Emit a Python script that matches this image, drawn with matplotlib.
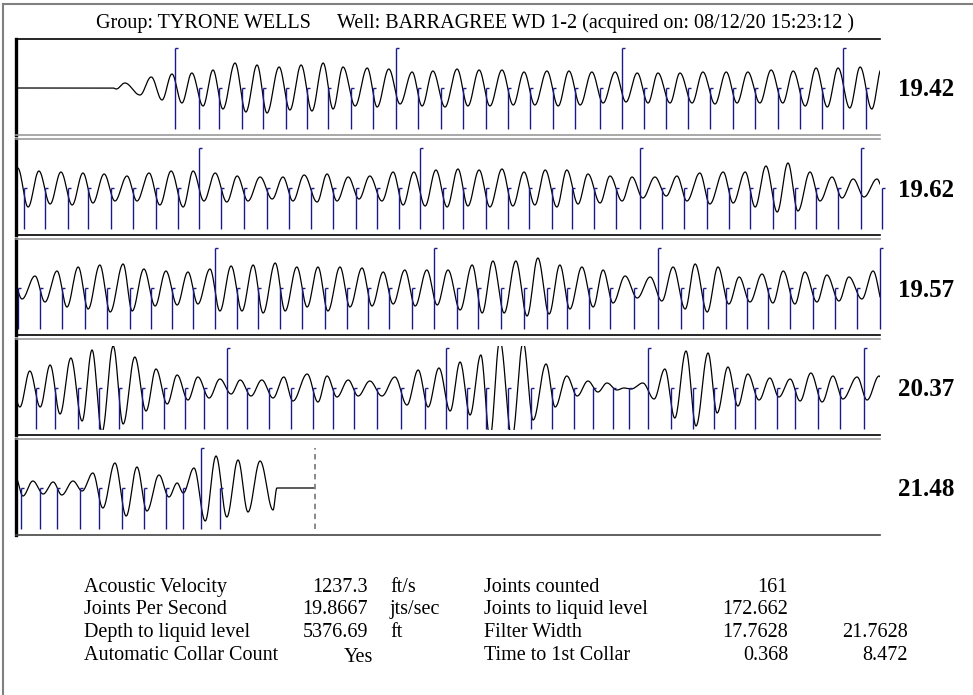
import numpy as np
import matplotlib.pyplot as plt
from matplotlib.patches import Rectangle
from matplotlib.lines import Line2D

plt.rcParams['font.family'] = ['Liberation Serif', 'DejaVu Serif']

group = "TYRONE WELLS"
well = "BARRAGREE WD 1-2"
acquired = "08/12/20 15:23:12"

# joints per second shown at the right of each 2 s strip
strip_rates = ["19.42", "19.62", "19.57", "20.37", "21.48"]
strip_seconds = 2.0

acoustic_velocity = 1237.3
joints_per_second = 19.8667
depth_to_liquid = 5376.69
auto_collar = "Yes"
joints_counted = 161
joints_to_liquid = 172.662
filter_width = [17.7628, 21.7628]
time_first_collar = [0.368, 8.472]

# collar times (s), read strip by strip; every 10th one is drawn long
collars_1 = [0.368, 0.424, 0.470, 0.523, 0.572, 0.625, 0.674, 0.722, 0.775, 0.826,
             0.880, 0.931, 0.984, 1.035, 1.088, 1.139, 1.190, 1.243, 1.294, 1.352,
             1.403, 1.454, 1.505, 1.556, 1.606, 1.660, 1.711, 1.764, 1.815, 1.866,
             1.914, 1.968]
collars_2 = [2.019, 2.067, 2.120, 2.167, 2.220, 2.271, 2.324, 2.375, 2.424, 2.475,
             2.528, 2.581, 2.632, 2.683, 2.734, 2.787, 2.836, 2.887, 2.935, 2.988,
             3.035, 3.088, 3.139, 3.188, 3.241, 3.287, 3.338, 3.389, 3.444, 3.495,
             3.546, 3.600, 3.650, 3.699, 3.752, 3.803, 3.852, 3.903, 3.956, 4.005]
collars_3 = [4.056, 4.106, 4.160, 4.211, 4.264, 4.313, 4.361, 4.410, 4.461, 4.512,
             4.560, 4.611, 4.662, 4.715, 4.766, 4.815, 4.863, 4.917, 4.968, 5.021,
             5.069, 5.123, 5.176, 5.229, 5.275, 5.326, 5.375, 5.431, 5.486, 5.539,
             5.590, 5.644, 5.692, 5.741, 5.792, 5.845, 5.896, 5.947, 5.999]
collars_4 = [6.046, 6.090, 6.144, 6.192, 6.238, 6.292, 6.343, 6.391, 6.435, 6.488,
             6.535, 6.586, 6.637, 6.688, 6.734, 6.782, 6.836, 6.891, 6.947, 6.995,
             7.044, 7.088, 7.139, 7.192, 7.241, 7.292, 7.336, 7.382, 7.419, 7.463,
             7.516, 7.567, 7.616, 7.664, 7.711, 7.762, 7.803, 7.857, 7.907, 7.963]
collars_5 = [8.012, 8.056, 8.095, 8.148, 8.192, 8.245, 8.296, 8.347, 8.387, 8.428,
             8.472]

# filtered acoustic trace: turning points (time s, amplitude)
wave1_t = [0.000, 0.225, 0.232, 0.252, 0.287, 0.313, 0.338, 0.361, 0.384, 0.407,
           0.433, 0.456, 0.479, 0.507, 0.532, 0.558, 0.581, 0.609, 0.634, 0.660,
           0.685, 0.711, 0.734, 0.757, 0.785, 0.813, 0.836, 0.863, 0.889, 0.917,
           0.940, 0.965, 0.993, 1.021, 1.046, 1.072, 1.097, 1.125, 1.151, 1.176,
           1.201, 1.229, 1.255, 1.280, 1.306, 1.333, 1.359, 1.387, 1.412, 1.438,
           1.463, 1.486, 1.514, 1.537, 1.565, 1.590, 1.618, 1.644, 1.669, 1.694,
           1.722, 1.748, 1.775, 1.799, 1.827, 1.852, 1.878, 1.903, 1.930, 1.954,
           1.981, 2.004]
wave1_v = [0, 0, -1, 5, -7, 11, -12, 14, -15, 15,
           -18, 18, -21, 25, -24, 23, -25, 21, -22, 23,
           -23, 25, -21, 21, -18, 20, -19, 19, -16, 16,
           -18, 17, -19, 19, -18, 18, -18, 18, -17, 16,
           -17, 17, -18, 17, -17, 16, -15, 16, -14, 15,
           -15, 15, -15, 15, -15, 16, -16, 16, -15, 16,
           -15, 18, -15, 17, -18, 20, -19, 20, -20, 21,
           -21, 20]
wave2_t = [2.028, 2.053, 2.079, 2.104, 2.130, 2.155, 2.178, 2.204, 2.229, 2.257,
           2.280, 2.308, 2.333, 2.359, 2.387, 2.410, 2.435, 2.461, 2.488, 2.512,
           2.537, 2.565, 2.593, 2.618, 2.641, 2.667, 2.697, 2.720, 2.743, 2.769,
           2.794, 2.819, 2.847, 2.873, 2.896, 2.921, 2.947, 2.972, 2.998, 3.023,
           3.046, 3.072, 3.097, 3.125, 3.150, 3.176, 3.201, 3.225, 3.252, 3.275,
           3.301, 3.324, 3.352, 3.375, 3.403, 3.426, 3.451, 3.479, 3.505, 3.530,
           3.553, 3.583, 3.606, 3.637, 3.660, 3.688, 3.711, 3.736, 3.762, 3.787,
           3.810, 3.838, 3.861, 3.889, 3.912, 3.938, 3.963, 3.993]
wave2_v = [-19, 17, -16, 16, -17, 15, -15, 14, -13, 12,
           -13, 15, -17, 17, -19, 17, -13, 15, -14, 12,
           -13, 11, -11, 11, -13, 13, -14, 14, -13, 11,
           -11, 12, -13, 16, -17, 16, -18, 18, -19, 19,
           -18, 18, -19, 19, -18, 16, -17, 18, -19, 18,
           -16, 14, -15, 12, -13, 11, -10, 11, -8, 12,
           -13, 15, -16, 16, -15, 16, -19, 22, -24, 25,
           -23, 16, -13, 11, -10, 9, -9, 9]
wave3_t = [4.014, 4.044, 4.067, 4.095, 4.118, 4.144, 4.167, 4.194, 4.218, 4.248,
           4.269, 4.296, 4.322, 4.347, 4.373, 4.398, 4.421, 4.449, 4.472, 4.498,
           4.523, 4.549, 4.572, 4.600, 4.623, 4.650, 4.674, 4.699, 4.722, 4.750,
           4.773, 4.801, 4.824, 4.850, 4.873, 4.900, 4.924, 4.951, 4.975, 5.000,
           5.028, 5.056, 5.079, 5.104, 5.130, 5.157, 5.183, 5.208, 5.234, 5.259,
           5.282, 5.310, 5.336, 5.359, 5.382, 5.410, 5.438, 5.468, 5.495, 5.521,
           5.549, 5.572, 5.600, 5.625, 5.650, 5.674, 5.699, 5.727, 5.752, 5.776,
           5.803, 5.826, 5.854, 5.877, 5.905, 5.928, 5.958, 5.984]
wave3_v = [-11, 12, -14, 17, -19, 21, -21, 23, -24, 24,
           -23, 19, -18, 17, -17, 16, -16, 19, -23, 22,
           -23, 23, -25, 25, -23, 21, -19, 21, -23, 21,
           -19, 20, -18, 16, -16, 18, -18, 18, -17, 18,
           -22, 23, -25, 27, -25, 27, -28, 30, -26, 23,
           -21, 21, -19, 18, -15, 12, -10, 11, -13, 21,
           -21, 24, -24, 21, -16, 11, -14, 14, -15, 17,
           -16, 16, -14, 13, -13, 11, -11, 17]
wave4_t = [6.009, 6.032, 6.056, 6.079, 6.102, 6.127, 6.153, 6.176, 6.199, 6.225,
           6.248, 6.275, 6.301, 6.324, 6.350, 6.373, 6.398, 6.421, 6.447, 6.472,
           6.498, 6.519, 6.544, 6.569, 6.595, 6.620, 6.641, 6.674, 6.699, 6.720,
           6.743, 6.769, 6.792, 6.819, 6.847, 6.877, 6.905, 6.931, 6.954, 6.979,
           7.005, 7.028, 7.051, 7.076, 7.097, 7.120, 7.148, 7.174, 7.197, 7.227,
           7.248, 7.275, 7.299, 7.324, 7.347, 7.368, 7.391, 7.407, 7.424, 7.451,
           7.477, 7.502, 7.525, 7.551, 7.574, 7.602, 7.623, 7.648, 7.671, 7.694,
           7.720, 7.745, 7.766, 7.792, 7.815, 7.840, 7.866, 7.891, 7.914, 7.947,
           7.970, 7.998]
wave4_v = [-19, 17, -19, 23, -26, 30, -33, 38, -44, 42,
           -36, 31, -23, 19, -16, 13, -12, 11, -10, 9,
           -6, 8, -8, 8, -10, 11, -13, 14, -14, 12,
           -9, 8, -8, 7, -8, 11, -17, 18, -19, 20,
           -23, 26, -27, 33, -50, 48, -50, 46, -32, 24,
           -19, 12, -8, 7, -4, 5, -2, 0, -1, 5,
           -11, 19, -30, 37, -38, 35, -25, 21, -18, 14,
           -12, 10, -9, 9, -13, 15, -14, 12, -11, 11,
           -12, 12]
wave5_t = [8.016, 8.039, 8.063, 8.086, 8.106, 8.132, 8.153, 8.178, 8.201, 8.229,
           8.255, 8.280, 8.303, 8.331, 8.354, 8.373, 8.387, 8.412, 8.438, 8.463,
           8.488, 8.514, 8.537, 8.565, 8.595, 8.604]
wave5_v = [-8, 7, -6, 6, -7, 7, -3, 15, -20, 25,
           -28, 21, -23, 13, -9, 5, -5, 20, -33, 32,
           -29, 28, -24, 27, -22, 0]

# round trip time to the liquid level
liquid_time = 2 * depth_to_liquid / acoustic_velocity

wave_t = np.array(wave1_t + wave2_t + wave3_t + wave4_t + wave5_t + [liquid_time])
wave_v = np.array(wave1_v + wave2_v + wave3_v + wave4_v + wave5_v + [0], dtype=float)
collars = np.array(collars_1 + collars_2 + collars_3 + collars_4 + collars_5)


def trace(t):
    # smooth half-cosine between consecutive turning points
    i = np.clip(np.searchsorted(wave_t, t) - 1, 0, len(wave_t) - 2)
    u = np.clip((t - wave_t[i]) / (wave_t[i + 1] - wave_t[i]), 0, 1)
    return wave_v[i] + (wave_v[i + 1] - wave_v[i]) * (1 - np.cos(np.pi * u)) / 2


W, H = 973, 695
fig = plt.figure(figsize=(W / 100, H / 100), dpi=100)


def fx(x):
    return x / W


def fy(y):
    return 1 - y / H


navy = '#1a1a8a'
tick = [(0, 0), (1, 0)]
top_colors = ['black', '#9a9a9a', '#9a9a9a', '#9a9a9a', '#9a9a9a']
bottom_colors = ['#9a9a9a', 'black', 'black', 'black', '#444444']

for k in range(5):
    t0 = k * strip_seconds
    t1 = t0 + strip_seconds
    ax = fig.add_axes([fx(16), fy(135 + 100 * k), (880 - 16) / W, 96 / H])
    ax.set_xlim(t0, t1)
    ax.set_ylim(-47, 49)
    ax.set_xticks([])
    ax.set_yticks([])
    ax.spines['right'].set_visible(False)
    ax.spines['left'].set_linewidth(2.4)
    ax.spines['left'].set_color('black')
    ax.spines['top'].set_color(top_colors[k])
    ax.spines['bottom'].set_color(bottom_colors[k])
    ax.spines['top'].set_linewidth(1.2)
    ax.spines['bottom'].set_linewidth(1.2)

    tt = np.arange(t0, min(t1, liquid_time) + 1e-9, 0.0004)
    line, = ax.plot(tt, trace(tt), color='black', lw=0.9)
    line.set_clip_path(Rectangle((t0, -41.5), strip_seconds, 83, transform=ax.transData))

    for n, c in enumerate(collars):
        if not (t0 <= c <= t1 + 0.008):
            continue
        top = 40 if n % 10 == 0 else 0
        ax.plot([c, c], [-41, top], color=navy, lw=1.0, solid_capstyle='butt', clip_on=False)
        ax.plot([c], [top], marker=tick, ms=5, mew=1.0, color=navy, clip_on=False)

    if t0 <= liquid_time <= t1:
        ax.plot([liquid_time, liquid_time], [-41, 40], color='#808080', lw=1.3,
                ls=(0, (3, 2.5)))

    fig.text(fx(898), fy(90 + 100 * k), strip_rates[k], fontsize=18, fontweight='bold',
             ha='left', va='center')

# page border
fig.add_artist(Line2D([fx(3), 1], [fy(4), fy(4)], color='#808080', lw=1.5))
fig.add_artist(Line2D([fx(3), fx(3)], [0, fy(4)], color='#808080', lw=1.5))

fig.text(fx(96), fy(28), "Group: " + group, fontsize=14.5, va='baseline')
fig.text(fx(337), fy(28), "Well: %s (acquired on: %s )" % (well, acquired),
         fontsize=14.5, va='baseline')

rows = [592, 614, 637, 660]
left_labels = ["Acoustic Velocity", "Joints Per Second", "Depth to liquid level",
               "Automatic Collar Count"]
left_values = [str(acoustic_velocity), str(joints_per_second), str(depth_to_liquid)]
left_units = ["ft/s", "jts/sec", "ft"]
right_labels = ["Joints counted", "Joints to liquid level", "Filter Width",
                "Time to 1st Collar"]
right_values = [str(joints_counted), str(joints_to_liquid), str(filter_width[0]),
                str(time_first_collar[0])]
extra_values = ["", "", str(filter_width[1]), str(time_first_collar[1])]

fs = 14.5
for i, y in enumerate(rows):
    fig.text(fx(84), fy(y), left_labels[i], fontsize=fs, va='baseline')
    if i < 3:
        fig.text(fx(368), fy(y), left_values[i], fontsize=fs, va='baseline', ha='right')
        fig.text(fx(390), fy(y), left_units[i], fontsize=fs, va='baseline')
    else:
        fig.text(fx(358), fy(y + 2), auto_collar, fontsize=fs, va='baseline', ha='center')
    fig.text(fx(484), fy(y), right_labels[i], fontsize=fs, va='baseline')
    fig.text(fx(788), fy(y), right_values[i], fontsize=fs, va='baseline', ha='right')
    if extra_values[i]:
        fig.text(fx(908), fy(y), extra_values[i], fontsize=fs, va='baseline', ha='right')

fig.savefig("out.png", dpi=100)
